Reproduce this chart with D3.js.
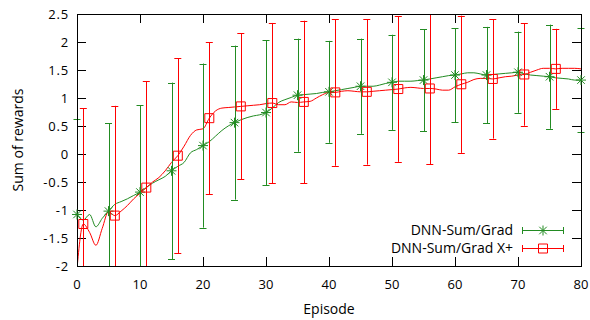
<!DOCTYPE html>
<html>
<head>
<meta charset="utf-8">
<script src="https://cdn.jsdelivr.net/npm/d3@7"></script>
<style>
body { margin: 0; background: #fff; }
text { font-family: "Open Sans", sans-serif; fill: #000; }
</style>
</head>
<body>
<div id="chart-area"></div>
<script>
let width = 590,
height = 320;

// mean reward per episode, DNN-Sum/Grad
let sumGrad = [-1.08,-1.18,-1.08,-1.30,-1.15,-1.02,-0.90,-0.85,-0.80,-0.74,
	-0.68,-0.60,-0.52,-0.46,-0.40,-0.30,-0.22,-0.15,0.02,0.08,
	0.15,0.22,0.32,0.42,0.50,0.56,0.61,0.65,0.68,0.70,
	0.74,0.82,0.92,0.97,1.01,1.05,1.06,1.07,1.08,1.10,
	1.11,1.13,1.15,1.17,1.19,1.21,1.21,1.21,1.23,1.26,
	1.28,1.30,1.30,1.30,1.31,1.32,1.34,1.36,1.38,1.40,
	1.41,1.43,1.45,1.45,1.43,1.41,1.42,1.43,1.44,1.45,
	1.46,1.43,1.41,1.40,1.39,1.38,1.36,1.35,1.34,1.32,1.32];

// mean reward per episode, DNN-Sum/Grad X+
let sumGradX = [-2.05,-1.25,-1.40,-1.63,-1.33,-1.03,-1.10,-1.02,-0.92,-0.80,
	-0.70,-0.60,-0.50,-0.42,-0.30,-0.15,-0.03,0.14,0.33,0.43,
	0.45,0.64,0.77,0.82,0.83,0.84,0.85,0.86,0.87,0.88,
	0.90,0.91,0.88,0.88,0.93,0.92,0.93,0.94,1.00,1.06,
	1.10,1.10,1.12,1.13,1.12,1.11,1.11,1.12,1.13,1.14,
	1.15,1.16,1.18,1.19,1.18,1.17,1.17,1.16,1.14,1.14,
	1.20,1.245,1.28,1.33,1.35,1.35,1.34,1.36,1.38,1.39,
	1.41,1.42,1.46,1.50,1.53,1.53,1.52,1.53,1.53,1.53,1.52];

// episodes where the error bars + markers are drawn
let gradBarEp = [0,5,10,15,20,25,30,35,40,45,50,55,60,65,70,75,80];
let gradErr = [1.70,1.57,1.55,1.575,1.465,1.375,1.295,1.01,0.91,0.85,0.85,0.91,0.84,0.86,0.725,0.93,0.935];

let gradXBarEp = [1,6,11,16,21,26,31,36,41,46,51,56,61,66,71,76];
let gradXErr = [2.07,1.96,1.9,1.74,1.36,1.305,1.43,1.45,1.31,1.30,1.3,1.35,1.225,1.065,0.915,0.715];

let xTicks = [0,10,20,30,40,50,60,70,80];
let yTicks = [-2,-1.5,-1,-0.5,0,0.5,1,1.5,2,2.5];
let yTickLabels = ["-2","-1.5","-1","-0.5","0","0.5","1","1.5","2","2.5"];

let seriesNames = ["DNN-Sum/Grad", "DNN-Sum/Grad X+"];

let pLeft = 77, pTop = 14, pRight = 581, pBottom = 266;

let svg = d3.select("#chart-area").append("svg")
	.attr("width", width)
	.attr("height", height);

let x = d3.scaleLinear().domain([0, 80]).range([pLeft, pRight]);
let y = d3.scaleLinear().domain([-2, 2.5]).range([pBottom, pTop]);

svg.append("clipPath").attr("id", "plotclip")
	.append("rect")
	.attr("x", pLeft).attr("y", pTop)
	.attr("width", pRight - pLeft).attr("height", pBottom - pTop);
// error bars only get cut at top / bottom
svg.append("clipPath").attr("id", "barclip")
	.append("rect")
	.attr("x", pLeft - 10).attr("y", pTop)
	.attr("width", pRight - pLeft + 20).attr("height", pBottom - pTop);

// inward ticks on all four sides
let tickLen = 9;
let axisG = svg.append("g").attr("stroke", "#000").attr("stroke-width", 1);
xTicks.forEach(function(t) {
	let px = Math.round(x(t)) + 0.5;
	axisG.append("line").attr("x1", px).attr("x2", px).attr("y1", pBottom).attr("y2", pBottom - tickLen);
	axisG.append("line").attr("x1", px).attr("x2", px).attr("y1", pTop).attr("y2", pTop + tickLen);
});
yTicks.forEach(function(t) {
	let py = Math.round(y(t)) + 0.5;
	axisG.append("line").attr("x1", pLeft).attr("x2", pLeft + tickLen).attr("y1", py).attr("y2", py);
	axisG.append("line").attr("x1", pRight).attr("x2", pRight - tickLen).attr("y1", py).attr("y2", py);
});

svg.selectAll(".xlab")
	.data(xTicks)
	.enter().append("text")
	.attr("class", "xlab")
	.attr("x", d => x(d))
	.attr("y", 289)
	.attr("text-anchor", "middle")
	.style("font-size", "13px")
	.text(d => d);

svg.selectAll(".ylab")
	.data(yTicks)
	.enter().append("text")
	.attr("class", "ylab")
	.attr("x", 69)
	.attr("y", d => y(d) + 4.5)
	.attr("text-anchor", "end")
	.style("font-size", "13px")
	.style("letter-spacing", "0.8px")
	.text((d, i) => yTickLabels[i]);

svg.append("text")
	.attr("x", (pLeft + pRight) / 2)
	.attr("y", 314)
	.attr("text-anchor", "middle")
	.style("font-size", "14px")
	.text("Episode");

svg.append("text")
	.attr("transform", "translate(23," + ((pTop + pBottom) / 2) + ") rotate(-90)")
	.attr("text-anchor", "middle")
	.style("font-size", "14px")
	.text("Sum of rewards");

let linesG = svg.append("g").attr("clip-path", "url(#plotclip)");
let barsG = svg.append("g").attr("clip-path", "url(#barclip)");

let line = d3.line()
	.x((d, i) => x(i))
	.y(d => y(d))
	.curve(d3.curveMonotoneX);

let capW = 3.5;

function starPath(cx, cy, r) {
	let s = r * 0.75;
	return "M" + (cx - r) + "," + cy + "H" + (cx + r) +
		"M" + cx + "," + (cy - r) + "V" + (cy + r) +
		"M" + (cx - s) + "," + (cy - s) + "L" + (cx + s) + "," + (cy + s) +
		"M" + (cx - s) + "," + (cy + s) + "L" + (cx + s) + "," + (cy - s);
}

function drawSeries(vals, barEp, errs, color, marker) {
	let bars = barsG.append("g").selectAll("g.bar")
		.data(barEp)
		.enter().append("g")
		.attr("stroke", color)
		.attr("stroke-width", 1);
	bars.append("line")
		.attr("x1", d => Math.round(x(d)) + 0.5)
		.attr("x2", d => Math.round(x(d)) + 0.5)
		.attr("y1", (d, i) => y(vals[d] + errs[i]))
		.attr("y2", (d, i) => y(vals[d] - errs[i]));
	bars.append("line")
		.attr("x1", d => x(d) - capW)
		.attr("x2", d => x(d) + capW)
		.attr("y1", (d, i) => Math.round(y(vals[d] + errs[i])) + 0.5)
		.attr("y2", (d, i) => Math.round(y(vals[d] + errs[i])) + 0.5);
	bars.append("line")
		.attr("x1", d => x(d) - capW)
		.attr("x2", d => x(d) + capW)
		.attr("y1", (d, i) => Math.round(y(vals[d] - errs[i])) + 0.5)
		.attr("y2", (d, i) => Math.round(y(vals[d] - errs[i])) + 0.5);

	linesG.append("path")
		.datum(vals)
		.attr("d", line)
		.attr("fill", "none")
		.attr("stroke", color)
		.attr("stroke-width", 1);

	svg.append("g").selectAll("path.mk")
		.data(barEp)
		.enter().append("path")
		.attr("class", "mk")
		.attr("fill", "none")
		.attr("stroke", color)
		.attr("stroke-width", 1)
		.attr("d", function(d) {
			let cx = x(d), cy = y(vals[d]);
			if (marker === "star") return starPath(cx, cy, 5);
			return "M" + (cx - 4.5) + "," + (cy - 4.5) + "h9v9h-9z";
		});
}

// frame
svg.append("rect")
	.attr("x", pLeft + 0.5).attr("y", pTop + 0.5)
	.attr("width", pRight - pLeft).attr("height", pBottom - pTop)
	.attr("fill", "none")
	.attr("stroke", "#000")
	.attr("stroke-width", 1);

drawSeries(sumGrad, gradBarEp, gradErr, "#228b22", "star");
drawSeries(sumGradX, gradXBarEp, gradXErr, "#ff0000", "square");

// legend
let legendRows = [
	{name: seriesNames[0], color: "#228b22", marker: "star", y: 230},
	{name: seriesNames[1], color: "#ff0000", marker: "square", y: 248}
];
legendRows.forEach(function(r) {
	svg.append("text")
		.attr("x", 513)
		.attr("y", r.y + 5)
		.attr("text-anchor", "end")
		.style("font-size", "14px")
		.text(r.name);
	let lg = svg.append("g").attr("stroke", r.color).attr("stroke-width", 1).attr("fill", "none");
	let x0 = 522, x1 = 564, yy = r.y + 0.5;
	lg.append("line").attr("x1", x0).attr("x2", x1).attr("y1", yy).attr("y2", yy);
	lg.append("line").attr("x1", x0 + 0.5).attr("x2", x0 + 0.5).attr("y1", yy - 3.5).attr("y2", yy + 3.5);
	lg.append("line").attr("x1", x1 - 0.5).attr("x2", x1 - 0.5).attr("y1", yy - 3.5).attr("y2", yy + 3.5);
	let cx = 543;
	if (r.marker === "star") lg.append("path").attr("d", starPath(cx, yy, 5));
	else lg.append("path").attr("d", "M" + (cx - 4.5) + "," + (yy - 4.5) + "h9v9h-9z");
});
</script>
</body>
</html>
